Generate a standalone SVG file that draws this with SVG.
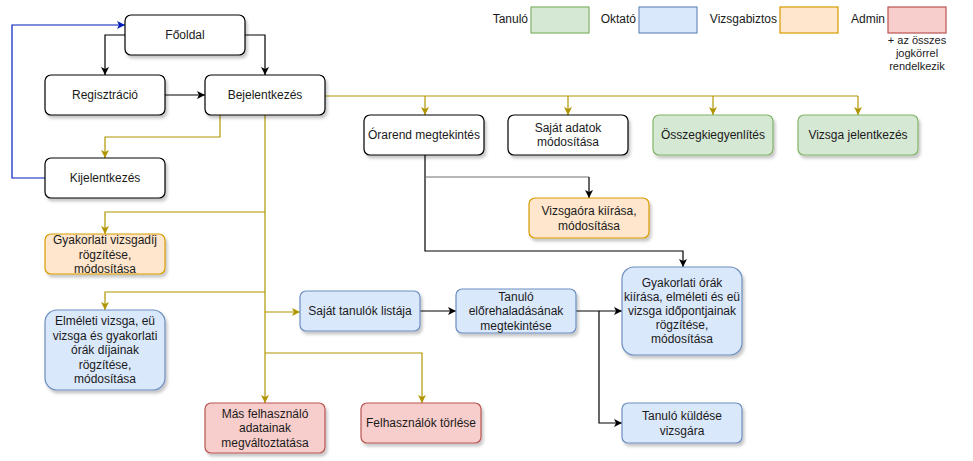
<svg xmlns="http://www.w3.org/2000/svg" width="973" height="461" viewBox="0 0 973 461">
<style>
text{font-family:"Liberation Sans",Arial,sans-serif;font-size:12px;fill:#1a1a1a;text-anchor:middle}
.small{font-size:11px}
.lg{text-anchor:end}
.n{stroke-width:1.2}
.w{fill:#ffffff;stroke:#000000}
.g{fill:#d5e8d4;stroke:#82b366}
.b{fill:#dae8fc;stroke:#6c8ebf}
.o{fill:#ffe6cc;stroke:#d79b00}
.r{fill:#f8cecc;stroke:#b85450}
.e{fill:none;stroke-width:1.2}
.k{stroke:#000000}
.y{stroke:#b09500}
.u{stroke:#001dbc}
</style>
<defs>
<filter id="sh" x="-10%" y="-10%" width="130%" height="140%">
<feDropShadow dx="2" dy="3" stdDeviation="1.5" flood-color="#000" flood-opacity="0.22"/>
</filter>
<marker id="ak" markerWidth="10" markerHeight="10" refX="8" refY="4" orient="auto" markerUnits="userSpaceOnUse"><path d="M0,0 L8,4 L0,8 L2,4 z" fill="#000"/></marker>
<marker id="ay" markerWidth="10" markerHeight="10" refX="8" refY="4" orient="auto" markerUnits="userSpaceOnUse"><path d="M0,0 L8,4 L0,8 L2,4 z" fill="#b09500"/></marker>
<marker id="au" markerWidth="10" markerHeight="10" refX="8" refY="4" orient="auto" markerUnits="userSpaceOnUse"><path d="M0,0 L8,4 L0,8 L2,4 z" fill="#001dbc"/></marker>
</defs>
<g id="connectors">
<path class="e u" d="M45,178 H12 V25 H125" marker-end="url(#au)"/>
<path class="e k" d="M125,35 H105 V75" marker-end="url(#ak)"/>
<path class="e k" d="M245,35 H265 V75" marker-end="url(#ak)"/>
<path class="e k" d="M165,95 H205" marker-end="url(#ak)"/>
<path class="e y" d="M220,115 V137 H105 V158" marker-end="url(#ay)"/>
<path class="e y" d="M325,96 H858"/>
<path class="e y" d="M425,96 V115" marker-end="url(#ay)"/>
<path class="e y" d="M568,96 V115" marker-end="url(#ay)"/>
<path class="e y" d="M713,96 V115" marker-end="url(#ay)"/>
<path class="e y" d="M858,96 V115" marker-end="url(#ay)"/>
<path class="e y" d="M265,115 V403" marker-end="url(#ay)"/>
<path class="e y" d="M265,212 H105 V234" marker-end="url(#ay)"/>
<path class="e y" d="M265,292 H105 V310" marker-end="url(#ay)"/>
<path class="e y" d="M265,312 H300" marker-end="url(#ay)"/>
<path class="e y" d="M265,353 H422 V403" marker-end="url(#ay)"/>
<path class="e k" d="M425,155 V251 H683 V267" marker-end="url(#ak)"/>
<path class="e" stroke="#707070" stroke-width="1.5" d="M425,177 H589"/>
<path class="e k" d="M589,177 V198" marker-end="url(#ak)"/>
<path class="e k" d="M420,311 H456" marker-end="url(#ak)"/>
<path class="e k" d="M576,311 H622" marker-end="url(#ak)"/>
<path class="e k" d="M599,311 V423 H622" marker-end="url(#ak)"/>
</g>
<g id="legend">
<text class="lg" x="528" y="23">Tanuló</text>
<rect x="531" y="7" width="58" height="26" class="g n"/>
<text class="lg" x="636" y="23">Oktató</text>
<rect x="639" y="7" width="58" height="26" class="b n"/>
<text class="lg" x="777" y="23">Vizsgabiztos</text>
<rect x="780" y="7" width="58" height="26" class="o n"/>
<text class="lg" x="885" y="23">Admin</text>
<rect x="888" y="7" width="58" height="26" class="r n"/>
<text class="small" x="917" y="44">+ az összes</text>
<text class="small" x="917" y="57">jogkörrel</text>
<text class="small" x="917" y="70">rendelkezik</text>
</g>
<g id="foloda">
<rect x="125" y="15" width="120" height="40" rx="6" class="w n" filter="url(#sh)"/>
<text x="185" y="39">Főoldal</text>
</g>
<g id="regisztracio">
<rect x="45" y="75" width="120" height="40" rx="6" class="w n" filter="url(#sh)"/>
<text x="105" y="99">Regisztráció</text>
</g>
<g id="bejelentkezes">
<rect x="205" y="75" width="120" height="40" rx="6" class="w n" filter="url(#sh)"/>
<text x="265" y="99">Bejelentkezés</text>
</g>
<g id="kijelentkezes">
<rect x="45" y="158" width="120" height="40" rx="6" class="w n" filter="url(#sh)"/>
<text x="105" y="182">Kijelentkezés</text>
</g>
<g id="orarend">
<rect x="364" y="115" width="120" height="40" rx="6" class="w n" filter="url(#sh)"/>
<text x="424" y="139">Órarend megtekintés</text>
</g>
<g id="sajat-adatok">
<rect x="508" y="115" width="120" height="40" rx="6" class="w n" filter="url(#sh)"/>
<text x="568" y="132">Saját adatok</text>
<text x="568" y="146">módosítása</text>
</g>
<g id="osszegkiegyenlites">
<rect x="653" y="115" width="120" height="40" rx="6" class="g n" filter="url(#sh)"/>
<text x="713" y="139">Összegkiegyenlítés</text>
</g>
<g id="vizsga-jelentkezes">
<rect x="798" y="115" width="120" height="40" rx="6" class="g n" filter="url(#sh)"/>
<text x="858" y="139">Vizsga jelentkezés</text>
</g>
<g id="vizsgaora">
<rect x="529" y="198" width="120" height="40" rx="6" class="o n" filter="url(#sh)"/>
<text x="589" y="215">Vizsgaóra kiírása,</text>
<text x="589" y="230">módosítása</text>
</g>
<g id="gyakorlati-vizsgadij">
<rect x="45" y="234" width="120" height="40" rx="6" class="o n" filter="url(#sh)"/>
<text x="105" y="244">Gyakorlati vizsgadíj</text>
<text x="105" y="259">rögzítése,</text>
<text x="105" y="273">módosítása</text>
</g>
<g id="elmeleti-dijak">
<rect x="45" y="310" width="120" height="80" rx="12" class="b n" filter="url(#sh)"/>
<text x="105" y="325">Elméleti vizsga, eü</text>
<text x="105" y="340">vizsga és gyakorlati</text>
<text x="105" y="354">órák díjainak</text>
<text x="105" y="369">rögzítése,</text>
<text x="105" y="383">módosítása</text>
</g>
<g id="sajat-tanulok">
<rect x="300" y="291" width="120" height="40" rx="6" class="b n" filter="url(#sh)"/>
<text x="360" y="315">Saját tanulók listája</text>
</g>
<g id="tanulo-elorehaladas">
<rect x="456" y="289" width="120" height="44" rx="6" class="b n" filter="url(#sh)"/>
<text x="516" y="301">Tanuló</text>
<text x="516" y="315">előrehaladásának</text>
<text x="516" y="330">megtekintése</text>
</g>
<g id="gyakorlati-orak">
<rect x="622" y="267" width="120" height="88" rx="12" class="b n" filter="url(#sh)"/>
<text x="682" y="287">Gyakorlati órák</text>
<text x="682" y="301">kiírása, elméleti és eü</text>
<text x="682" y="315">vizsga időpontjainak</text>
<text x="682" y="329">rögzítése,</text>
<text x="682" y="343">módosítása</text>
</g>
<g id="tanulo-kuldese">
<rect x="622" y="403" width="120" height="40" rx="6" class="b n" filter="url(#sh)"/>
<text x="682" y="420">Tanuló küldése</text>
<text x="682" y="435">vizsgára</text>
</g>
<g id="mas-felhasznalo">
<rect x="205" y="403" width="120" height="50" rx="6" class="r n" filter="url(#sh)"/>
<text x="265" y="418">Más felhasználó</text>
<text x="265" y="432">adatainak</text>
<text x="265" y="447">megváltoztatása</text>
</g>
<g id="felhasznalok-torlese">
<rect x="361" y="403" width="120" height="40" rx="6" class="r n" filter="url(#sh)"/>
<text x="421" y="427">Felhasználók törlése</text>
</g>
</svg>
